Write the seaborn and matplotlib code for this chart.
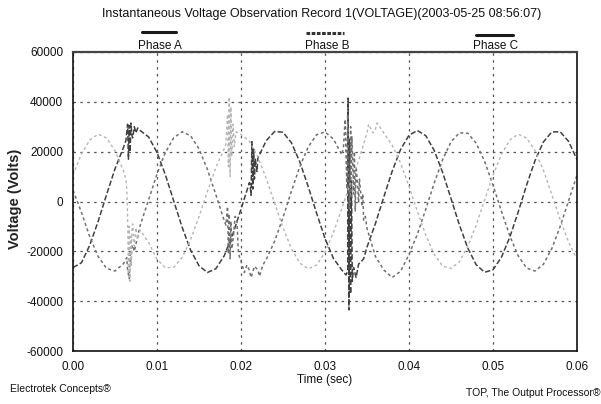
import matplotlib
matplotlib.use("Agg")
import matplotlib.pyplot as plt
import pandas as pd
import seaborn as sns
from matplotlib.lines import Line2D
from matplotlib.ticker import MultipleLocator

# ---------------- data ----------------
time_s = [0.000, 0.001, 0.002, 0.003, 0.004, 0.005, 0.006, 0.007, 0.008, 0.009,
          0.010, 0.011, 0.012, 0.013, 0.014, 0.015, 0.016, 0.017, 0.018, 0.019,
          0.020, 0.021, 0.022, 0.023, 0.024, 0.025, 0.026, 0.027, 0.028, 0.029,
          0.030, 0.031, 0.032, 0.033, 0.034, 0.035, 0.036, 0.037, 0.038, 0.039,
          0.040, 0.041, 0.042, 0.043, 0.044, 0.045, 0.046, 0.047, 0.048, 0.049,
          0.050, 0.051, 0.052, 0.053, 0.054, 0.055, 0.056, 0.057, 0.058, 0.059,
          0.060]

phase_a = [-26500, -24600, -17500, -7900, 2800, 13100, 21600, 26900, 28500, 25900,
           19700, 10700, 100, -10400, -19500, -25800, -28500, -27000, -21800, -13400,
           -3100, 7600, 17300, 24400, 28100, 27800, 23600, 15900, 6000, -4700,
           -14800, -22800, -27500, -28300, -25100, -18300, -8900, 1800, 12200, 20900,
           26600, 28500, 26400, 20500, 11700, 1200, -9400, -18700, -25400, -28400,
           -27400, -22400, -14300, -4200, 6600, 16400, 23900, 27900, 28000, 24100,
           16800]
phase_a_extra_t = [0.0063, 0.0065, 0.0066, 0.0067, 0.0068, 0.0069, 0.0071, 0.0073, 0.0075, 0.0077,
                   0.0211, 0.0212, 0.0213, 0.0214, 0.0215, 0.0216, 0.0217, 0.0219,
                   0.0325, 0.0327, 0.03275, 0.03285, 0.03293, 0.03305, 0.03315, 0.03325,
                   0.0334, 0.0337, 0.0342, 0.0346]
phase_a_extra_v = [24500, 31000, 17000, 30500, 20000, 31500, 25500, 30000, 27500, 29500,
                   6000, 2500, 24000, 5000, 21000, 9000, 17000, 12000,
                   -29500, -28000, 41500, -43500, 25000, -37000, 8000, -32000,
                   -26500, -30500, -24500, -23000]

phase_b = [4500, -4300, -14200, -22100, -26900, -27900, -25000, -18600, -9600, 700,
           11000, 19700, 25600, 28000, 26400, 21100, 12900, 2800, -7600, -17000,
           -24000, -27600, -27400, -23300, -16000, -6400, 4100, 14000, 21900, 26800,
           27900, 25100, 18800, 9800, -500, -10800, -22000, -27500, -30500, -28000,
           -21300, -13100, -3100, 7400, 16800, 23900, 27600, 27400, 23400, 16100,
           6600, -3900, -13800, -21800, -26700, -27900, -25200, -18900, -10000, 300,
           10600]
phase_b_extra_t = [0.0064, 0.0065, 0.0067, 0.0068, 0.0069, 0.0071, 0.0073,
                   0.0182, 0.0184, 0.0185, 0.0186, 0.0187, 0.0188, 0.0189, 0.0191, 0.0193, 0.0195, 0.0197,
                   0.0204, 0.0207, 0.0212, 0.0216, 0.0222, 0.0226,
                   0.0322, 0.0324, 0.0326, 0.0327, 0.0329, 0.03305, 0.0331, 0.0332, 0.0334, 0.0335,
                   0.0336, 0.0337, 0.0339, 0.0341, 0.0344, 0.0345, 0.0346, 0.0348]
phase_b_extra_v = [-22500, -27500, -31000, -20000, -25500, -17500, -20000,
                   -9500, -2000, -21000, -5000, -23000, -8000, -19000, -14000, -6000, -7000, -21000,
                   -28500, -25500, -30500, -26000, -30000, -25500,
                   22000, 33000, 5000, 35000, -3000, 30000, 2000, 26000, 3000, 20000,
                   -4000, 14000, 6000, 9000, -2000, 3000, -7500, -6000]

phase_c = [10600, 19000, 24700, 27000, 25500, 20400, 12400, -13000, -11500, -16400,
           -23200, -26600, -26400, -22400, -15300, -6100, 4000, 13600, 21200, 25900,
           26900, 24200, 18000, 9300, -600, -10500, -18900, -24700, -27000, -25500,
           -20400, -12500, -2800, 7300, 16400, 27500, 29000, 27500, 22500, 15400,
           6100, -4000, -13500, -21200, -25900, -26900, -24200, -18000, -9400, 600,
           10500, 18900, 24700, 27000, 25500, 20400, 12500, 2800, -7300, -16300,
           -23100]
phase_c_extra_t = [0.0063, 0.0064, 0.0065, 0.0066, 0.0067, 0.0068, 0.0069, 0.00695, 0.0071, 0.0073, 0.0075, 0.0077,
                   0.0182, 0.0184, 0.0185, 0.0186, 0.0187, 0.0188, 0.0189, 0.01905, 0.0192, 0.0194,
                   0.0352, 0.0357, 0.0362]
phase_c_extra_v = [9000, 5000, -6000, -29000, -10000, -32000, -14000, -26000, -9000, -18000, -10500, -15000,
                   23000, 35000, 14000, 42000, 10000, 38000, 18000, 31000, 22000, 28000,
                   31000, 27500, 31500]

phase_names = ["Phase A", "Phase B", "Phase C"]
x_ticks = [0.00, 0.01, 0.02, 0.03, 0.04, 0.05, 0.06]
x_tick_labels = ["0.00", "0.01", "0.02", "0.03", "0.04", "0.05", "0.06"]
y_ticks = [-60000, -40000, -20000, 0, 20000, 40000, 60000]
y_tick_labels = ["-60000", "-40000", "-20000", "0", "20000", "40000", "60000"]

title_text = "Instantaneous Voltage Observation Record 1(VOLTAGE)(2003-05-25 08:56:07)"

# ---------------- style ----------------
sns.set_style("white")
plt.rcParams['font.family'] = ['Liberation Sans', 'DejaVu Sans']

W, H = 601, 404
fig = plt.figure(figsize=(W / 100, H / 100), dpi=100)
fig.patch.set_facecolor("white")
L, R, T, B = 73, 577, 52, 351
ax = fig.add_axes([L / W, 1 - B / H, (R - L) / W, (B - T) / H])

series = [
    (phase_a, phase_a_extra_t, phase_a_extra_v, "#404040", (0, (3.5, 1.5)), 1.1),
    (phase_b, phase_b_extra_t, phase_b_extra_v, "#707070", (0, (2, 1.8)), 1.1),
    (phase_c, phase_c_extra_t, phase_c_extra_v, "#b4b4b4", (0, (2, 2)), 1.0),
]
for base, et, ev, color, ls, lw in series:
    df = pd.DataFrame({"t": list(time_s) + list(et), "v": list(base) + list(ev)})
    df = df.sort_values("t").reset_index(drop=True)
    sns.lineplot(data=df, x="t", y="v", ax=ax, color=color, linewidth=lw,
                 estimator=None, sort=True, legend=False)
    ax.lines[-1].set_linestyle(ls)

ax.set_xlim(0, 0.06)
ax.set_ylim(-60000, 60000)
ax.set_xticks(x_ticks)
ax.set_xticklabels(x_tick_labels)
ax.set_yticks(y_ticks)
ax.set_yticklabels(y_tick_labels)
ax.xaxis.set_minor_locator(MultipleLocator(0.002))
ax.yaxis.set_minor_locator(MultipleLocator(10000))
ax.tick_params(axis="both", which="major", direction="out", length=5, width=1,
               labelsize=8.5, pad=2, colors="#111111")
ax.tick_params(axis="both", which="minor", direction="in", length=3, width=0.8,
               colors="#333333")
ax.set_xlabel("")
ax.set_ylabel("")

ax.grid(True, which="major", color="#555555", linestyle=(0, (2, 3.5)), linewidth=0.9)
ax.grid(False, which="minor")
for side, sp in ax.spines.items():
    sp.set_visible(True)
    sp.set_color("#111111")
    sp.set_linewidth(1.2)
ax.spines["top"].set_color("#444444")
ax.spines["top"].set_linewidth(1.6)

# ---------------- texts ----------------
fig.text(322 / W, 1 - 14 / H, title_text, ha="center", va="center", fontsize=9, color="#111111")
fig.text(15 / W, 1 - 199 / H, "Voltage (Volts)", rotation=90, ha="center", va="center",
         fontsize=10.5, fontweight="bold", color="#222222")
fig.text(325 / W, 1 - 380 / H, "Time (sec)", ha="center", va="center", fontsize=8.5, color="#111111")
fig.text(10 / W, 1 - 389 / H, "Electrotek Concepts\u00ae", ha="left", va="center", fontsize=7.5, color="#111111")
fig.text(600 / W, 1 - 393 / H, "TOP, The Output Processor\u00ae", ha="right", va="center", fontsize=7.5, color="#111111")

# manual legend above the plot
legend_specs = [
    (142, 176, 32, 160, "-", "#1a1a1a"),
    (306, 344, 33, 327, (0, (1.2, 0.5)), "#333333"),
    (476, 513, 35, 496, "-", "#1a1a1a"),
]
for (x0, x1, yl, xc, ls, col), name in zip(legend_specs, phase_names):
    fig.add_artist(Line2D([x0 / W, x1 / W], [1 - yl / H, 1 - yl / H], transform=fig.transFigure,
                          color=col, linewidth=2.2, linestyle=ls))
    fig.text(xc / W, 1 - 46 / H, name, ha="center", va="center", fontsize=8.5, color="#111111")

fig.savefig("out.png", dpi=100, facecolor="white")
